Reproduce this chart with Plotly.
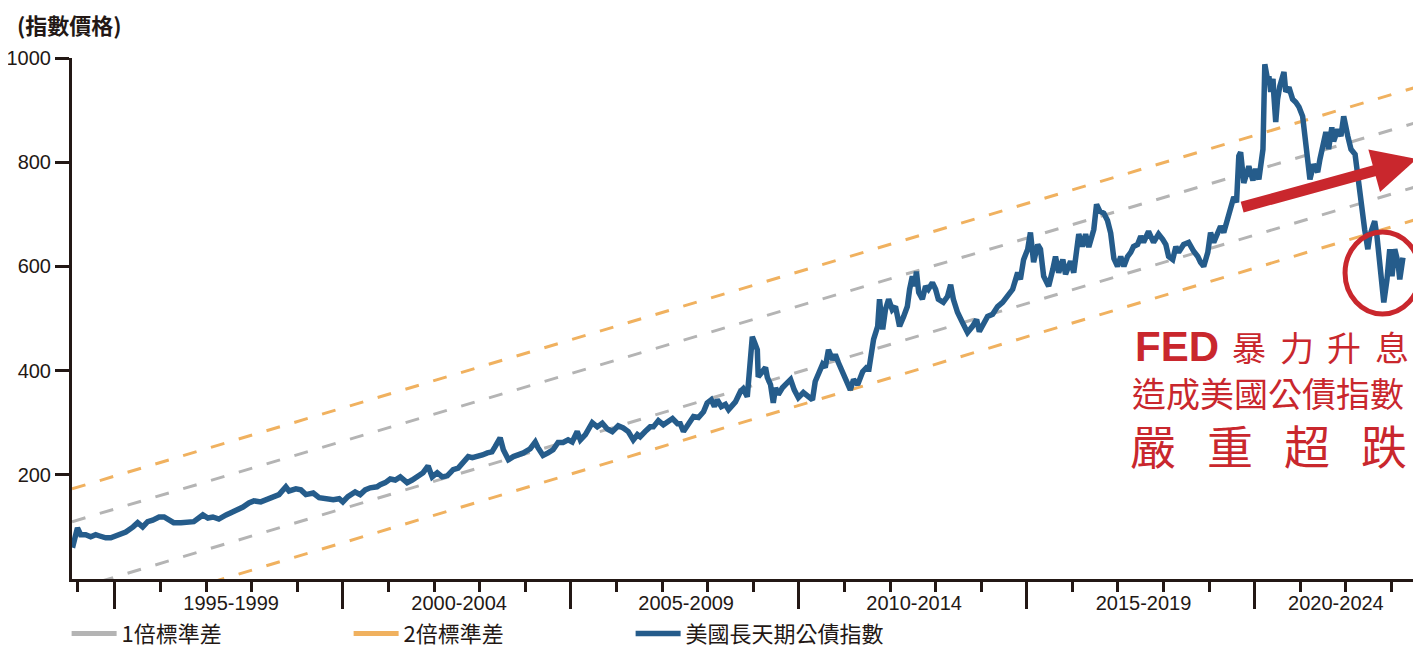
import plotly.graph_objects as go

# ---------------- data ----------------
years = [
    1994.07, 1994.18, 1994.25, 1994.36, 1994.47, 1994.58, 1994.65, 1994.80, 1994.91,
    1995.07, 1995.24, 1995.40, 1995.50, 1995.61, 1995.72, 1995.83, 1995.97,
    1996.08, 1996.19, 1996.29, 1996.45, 1996.62, 1996.73, 1996.93,
    1997.04, 1997.15, 1997.28, 1997.44, 1997.59, 1997.70, 1997.81, 1997.94,
    1998.05, 1998.20, 1998.31, 1998.47, 1998.60, 1998.75, 1998.82, 1998.97,
    1999.08, 1999.19, 1999.35, 1999.48, 1999.63, 1999.79, 1999.92,
    2000.00, 2000.11, 2000.27, 2000.38, 2000.49, 2000.60, 2000.75, 2000.82, 2000.93,
    2001.04, 2001.15, 2001.26, 2001.41, 2001.52, 2001.63, 2001.76, 2001.87, 2001.96,
    2002.07, 2002.18, 2002.29, 2002.42, 2002.53, 2002.64, 2002.75, 2002.84, 2002.95,
    2003.06, 2003.17, 2003.27, 2003.34, 2003.45, 2003.52, 2003.63, 2003.74, 2003.85, 2003.96,
    2004.11, 2004.22, 2004.28, 2004.39, 2004.50, 2004.61, 2004.72, 2004.83, 2004.94,
    2005.03, 2005.14, 2005.21, 2005.32, 2005.47, 2005.58, 2005.69, 2005.80, 2005.91,
    2006.04, 2006.15, 2006.26, 2006.37, 2006.46, 2006.52, 2006.63, 2006.74, 2006.81, 2006.92,
    2007.03, 2007.14, 2007.23, 2007.34, 2007.40, 2007.47, 2007.58, 2007.69, 2007.80, 2007.91, 2007.99,
    2008.08, 2008.15, 2008.21, 2008.30, 2008.39, 2008.46, 2008.54, 2008.61, 2008.72, 2008.78,
    2008.87, 2008.92, 2008.98, 2009.03, 2009.09, 2009.11, 2009.20, 2009.27, 2009.31, 2009.38,
    2009.44, 2009.49, 2009.55, 2009.64, 2009.75, 2009.82, 2009.90, 2009.99,
    2010.10, 2010.21, 2010.30, 2010.36, 2010.43, 2010.52, 2010.58, 2010.65, 2010.74, 2010.80,
    2010.87, 2010.98, 2011.07, 2011.13, 2011.20, 2011.29, 2011.40, 2011.51, 2011.53, 2011.59,
    2011.64, 2011.73, 2011.77, 2011.84, 2011.90, 2011.97,
    2012.05, 2012.12, 2012.21, 2012.30, 2012.38, 2012.43, 2012.49, 2012.54, 2012.58, 2012.63,
    2012.71, 2012.78, 2012.84, 2012.93, 2013.00, 2013.06, 2013.17, 2013.26, 2013.33, 2013.39,
    2013.48, 2013.59, 2013.70, 2013.81, 2013.90, 2013.96,
    2014.05, 2014.14, 2014.25, 2014.36, 2014.47, 2014.58, 2014.69, 2014.80, 2014.86, 2014.93,
    2015.02, 2015.08, 2015.15, 2015.24, 2015.30, 2015.37, 2015.48, 2015.57, 2015.63, 2015.70,
    2015.79, 2015.85, 2015.96,
    2016.03, 2016.14, 2016.22, 2016.29, 2016.36, 2016.47, 2016.53, 2016.60, 2016.69, 2016.77,
    2016.84, 2016.91, 2016.99,
    2017.06, 2017.13, 2017.21, 2017.28, 2017.34, 2017.43, 2017.50, 2017.56, 2017.67, 2017.78,
    2017.89, 2017.98,
    2018.05, 2018.11, 2018.20, 2018.27, 2018.33, 2018.44, 2018.55, 2018.66, 2018.75, 2018.81,
    2018.88, 2018.97,
    2019.03, 2019.10, 2019.19, 2019.25, 2019.32, 2019.41, 2019.47, 2019.54, 2019.60, 2019.65,
    2019.69, 2019.76, 2019.87, 2019.96,
    2020.02, 2020.09, 2020.18, 2020.20, 2020.22, 2020.29, 2020.31, 2020.35, 2020.40, 2020.42,
    2020.46, 2020.50, 2020.55, 2020.64, 2020.68, 2020.75, 2020.83, 2020.90, 2020.97,
    2021.05, 2021.10, 2021.16, 2021.21, 2021.29, 2021.38, 2021.43, 2021.49, 2021.56, 2021.62,
    2021.69, 2021.73, 2021.82, 2021.89, 2021.95,
    2022.04, 2022.11, 2022.20, 2022.26, 2022.31, 2022.37, 2022.41, 2022.48, 2022.52, 2022.59,
    2022.63, 2022.68, 2022.72, 2022.79, 2022.83, 2022.90, 2022.96,
    2023.01, 2023.07, 2023.14, 2023.18, 2023.25,
]
index_values = [
    60, 98, 85, 85, 81, 85, 83, 79, 79,
    85, 90, 100, 108, 100, 110, 113, 119,
    119, 113, 108, 108, 110, 110, 123,
    117, 119, 115, 123, 129, 133, 138, 146,
    150, 148, 152, 156, 162, 177, 169, 173,
    171, 162, 165, 156, 154, 152, 154,
    148, 158, 167, 162, 171, 175, 177, 181, 185,
    192, 190, 196, 185, 190, 196, 204, 217, 196,
    204, 196, 198, 210, 213, 225, 235, 233, 235,
    238, 242, 244, 254, 271, 248, 229, 235, 238, 242,
    250, 263, 252, 237, 242, 248, 262, 262, 267,
    263, 283, 267, 277, 300, 292, 299, 288, 283,
    294, 290, 283, 267, 277, 273, 283, 292, 292, 304,
    296, 302, 308, 298, 298, 283, 296, 312, 310, 321, 338,
    344, 331, 344, 331, 335, 325, 335, 340, 360, 365,
    350, 408, 465, 454, 440, 388, 398, 406, 387, 373,
    338, 367, 354, 367, 377, 383, 363, 348,
    358, 350, 344, 379, 392, 412, 406, 440, 421, 431,
    415, 392, 379, 363, 383, 373, 398, 408, 398, 435,
    460, 485, 537, 479, 517, 537,
    517, 523, 485, 504, 523, 556, 581, 562, 590, 550,
    537, 562, 556, 569, 556, 537, 531, 542, 565, 537,
    512, 492, 473, 485, 498, 475,
    492, 504, 508, 523, 531, 542, 556, 588, 575, 613,
    633, 665, 608, 642, 633, 581, 562, 594, 619, 588,
    613, 585, 610,
    588, 662, 638, 662, 637, 671, 719, 706, 702, 688,
    664, 615, 600,
    619, 600, 619, 627, 638, 642, 658, 646, 667, 646,
    662, 652,
    642, 619, 613, 638, 627, 642, 646, 629, 619, 608,
    600, 627,
    665, 646, 665, 677, 665, 696, 715, 733, 723, 812,
    819, 760, 792, 765,
    787, 767, 825, 877, 988, 954, 965, 935, 960, 927,
    877, 921, 946, 973, 935, 944, 921, 915, 906,
    888, 844, 812, 767, 796, 781, 806, 831, 858, 825,
    867, 840, 863, 850, 888,
    850, 825, 815, 767, 729, 696, 671, 633, 658, 677,
    687, 658, 627, 569, 531, 575, 633,
    581, 633, 608, 575, 617,
]

band_years = [1994.06, 2023.5]
upper_1sd = [110, 875]
lower_1sd = [-21, 752]
upper_2sd = [173, 943]
lower_2sd = [-87, 689]

y_ticks = [200, 400, 600, 800, 1000]
major_ticks = [1995, 2000, 2005, 2010, 2015, 2020]
minor_ticks = [1994.19, 1996, 1997, 1998, 1999, 2001, 2002, 2003, 2004,
               2006, 2007, 2008, 2009, 2011, 2012, 2013, 2014,
               2016, 2017, 2018, 2019, 2021, 2022, 2023]
period_labels = ["1995-1999", "2000-2004", "2005-2009", "2010-2014", "2015-2019", "2020-2024"]
period_label_pos = [1997.55, 2002.55, 2007.53, 2012.53, 2017.56, 2021.78]

# ---------------- styles ----------------
DARK = "#231815"
BLUE = "#255c8b"
GRAY = "#b4b4b4"
ORANGE = "#f0b15f"
RED = "#c9272d"
CJK = "Noto Sans CJK TC"
LATIN = "Liberation Sans, Arial, sans-serif"

fig = go.Figure()

# bands (no legend; legend keys added separately as solid lines)
fig.add_trace(go.Scatter(
    x=band_years + [None] + band_years,
    y=upper_1sd + [None] + lower_1sd,
    mode="lines", showlegend=False,
    line=dict(color=GRAY, width=3, dash="14px,15px"),
    hoverinfo="skip",
))
fig.add_trace(go.Scatter(
    x=band_years + [None] + band_years,
    y=upper_2sd + [None] + lower_2sd,
    mode="lines", showlegend=False,
    line=dict(color=ORANGE, width=3, dash="14px,15px"),
    hoverinfo="skip",
))
# legend keys
fig.add_trace(go.Scatter(x=[None], y=[None], mode="lines", name="1倍標準差",
                         line=dict(color=GRAY, width=5)))
fig.add_trace(go.Scatter(x=[None], y=[None], mode="lines", name="2倍標準差",
                         line=dict(color=ORANGE, width=5)))
# main series on overlaying axis (drawn on top, carries the period labels)
fig.add_trace(go.Scatter(
    x=years, y=index_values, xaxis="x2",
    mode="lines", name="美國長天期公債指數",
    line=dict(color=BLUE, width=5.5),
))

x_range = [1994.06, 2023.58]

annotations = [
    dict(text="(指數價格)", xref="paper", yref="paper", x=-0.0423, y=1.066,
         xanchor="left", yanchor="middle", showarrow=False,
         font=dict(family=CJK, size=22, color=DARK, weight="bold")),
    # red arrow
    dict(text="", x=2023.55, y=806, ax=2019.69, ay=713, xref="x", yref="y",
         axref="x", ayref="y", showarrow=True, arrowhead=2, arrowsize=0.8,
         arrowwidth=11, arrowcolor=RED),
    dict(text="FED", x=2018.29, y=446, xref="x", yref="y", showarrow=False,
         font=dict(family=LATIN, size=42, color=RED, weight="bold")),
]
for ch, xv in zip(["暴", "力", "升", "息"], [2019.87, 2020.92, 2021.95, 2023.01]):
    annotations.append(dict(text=ch, x=xv, y=446, xref="x", yref="y", showarrow=False,
                            font=dict(family=CJK, size=34, color=RED)))
annotations.append(dict(text="造成美國公債指數", x=2020.30, y=358, xref="x", yref="y",
                        showarrow=False, font=dict(family=CJK, size=34, color=RED)))
for ch, xv in zip(["嚴", "重", "超", "跌"], [2017.76, 2019.45, 2021.14, 2022.83]):
    annotations.append(dict(text=ch, x=xv, y=259, xref="x", yref="y", showarrow=False,
                            font=dict(family=CJK, size=46, color=RED)))

fig.update_layout(
    width=1413, height=643,
    margin=dict(l=64, r=3, t=50, b=72, autoexpand=False),
    paper_bgcolor="white", plot_bgcolor="white",
    showlegend=True,
    legend=dict(orientation="h", x=-0.004, xanchor="left", y=-0.105, yanchor="middle",
                font=dict(family=CJK, size=22, color=DARK),
                itemwidth=45, entrywidth=222, entrywidthmode="pixels",
                bgcolor="rgba(0,0,0,0)", traceorder="normal"),
    xaxis=dict(range=x_range, showgrid=False, zeroline=False, automargin=False,
               showline=True, linecolor=DARK, linewidth=3,
               tickmode="array", tickvals=major_ticks, showticklabels=False,
               ticks="outside", ticklen=27, tickwidth=2.5, tickcolor=DARK,
               minor=dict(tickmode="array", tickvals=minor_ticks, ticks="outside",
                          ticklen=10, tickwidth=2.5, tickcolor=DARK)),
    xaxis2=dict(range=x_range, overlaying="x", anchor="y", side="bottom",
                showgrid=False, zeroline=False, showline=False, automargin=False,
                tickmode="array", tickvals=period_label_pos, ticktext=period_labels,
                ticks="outside", ticklen=6, tickcolor="rgba(0,0,0,0)",
                tickfont=dict(family=LATIN, size=20, color=DARK)),
    yaxis=dict(range=[0, 1000], showgrid=False, zeroline=False, automargin=False,
               showline=True, linecolor=DARK, linewidth=3,
               tickmode="array", tickvals=y_ticks,
               ticks="outside", ticklen=14, tickwidth=2.5, tickcolor=DARK,
               tickfont=dict(family=LATIN, size=20, color=DARK)),
    annotations=annotations,
    shapes=[dict(type="circle", xref="paper", yref="paper", x0=0.9458, x1=1.0015,
                 y0=0.5086, y1=0.666, line=dict(color=RED, width=5))],
)

fig.write_html("out.html")
